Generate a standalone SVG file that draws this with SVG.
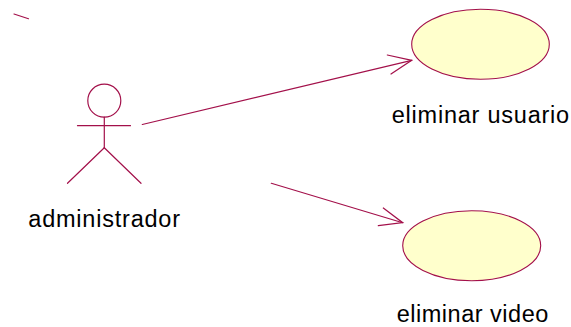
<svg xmlns="http://www.w3.org/2000/svg" width="571" height="327" viewBox="0 0 571 327">
<style>
.ln{stroke:#a3104a;stroke-width:1.2;fill:none;stroke-linecap:round}
.uc{fill:#ffffcc;stroke:#a3104a;stroke-width:1.1}
.lb{font-family:"Liberation Sans",Arial,sans-serif;font-size:23.5px;fill:#000}
</style>
<rect width="571" height="327" fill="#fff"/>
<line class="ln" x1="14" y1="14" x2="28.5" y2="18.7"/>
<g id="administrador">
<circle class="ln" cx="104.3" cy="100.7" r="16.5"/>
<line class="ln" x1="104.3" y1="117.2" x2="104.3" y2="147.7"/>
<line class="ln" x1="77.5" y1="125.7" x2="130.5" y2="125.7"/>
<line class="ln" x1="104.3" y1="147.7" x2="67.5" y2="183.3"/>
<line class="ln" x1="104.3" y1="147.7" x2="141" y2="183.3"/>
<text class="lb" x="28.3" y="226.5" textLength="151.7" lengthAdjust="spacing">administrador</text>
</g>
<g id="eliminar_usuario">
<ellipse class="uc" cx="480.5" cy="44.3" rx="68.8" ry="35"/>
<text class="lb" x="391.7" y="123" textLength="177.5" lengthAdjust="spacing">eliminar usuario</text>
</g>
<g id="eliminar_video">
<ellipse class="uc" cx="471.7" cy="245.7" rx="69" ry="35"/>
<text class="lb" x="396.7" y="321.8" textLength="151.6" lengthAdjust="spacing">eliminar video</text>
</g>
<g id="connectors">
<polyline class="ln" points="142.3,124.5 411.7,60.3"/>
<polyline class="ln" points="387.3,55 411.7,60.3 391,74"/>
<polyline class="ln" points="271.3,183.3 402.7,222.7"/>
<polyline class="ln" points="383.3,208 402.7,222.7 378.3,225.7"/>
</g>
</svg>
